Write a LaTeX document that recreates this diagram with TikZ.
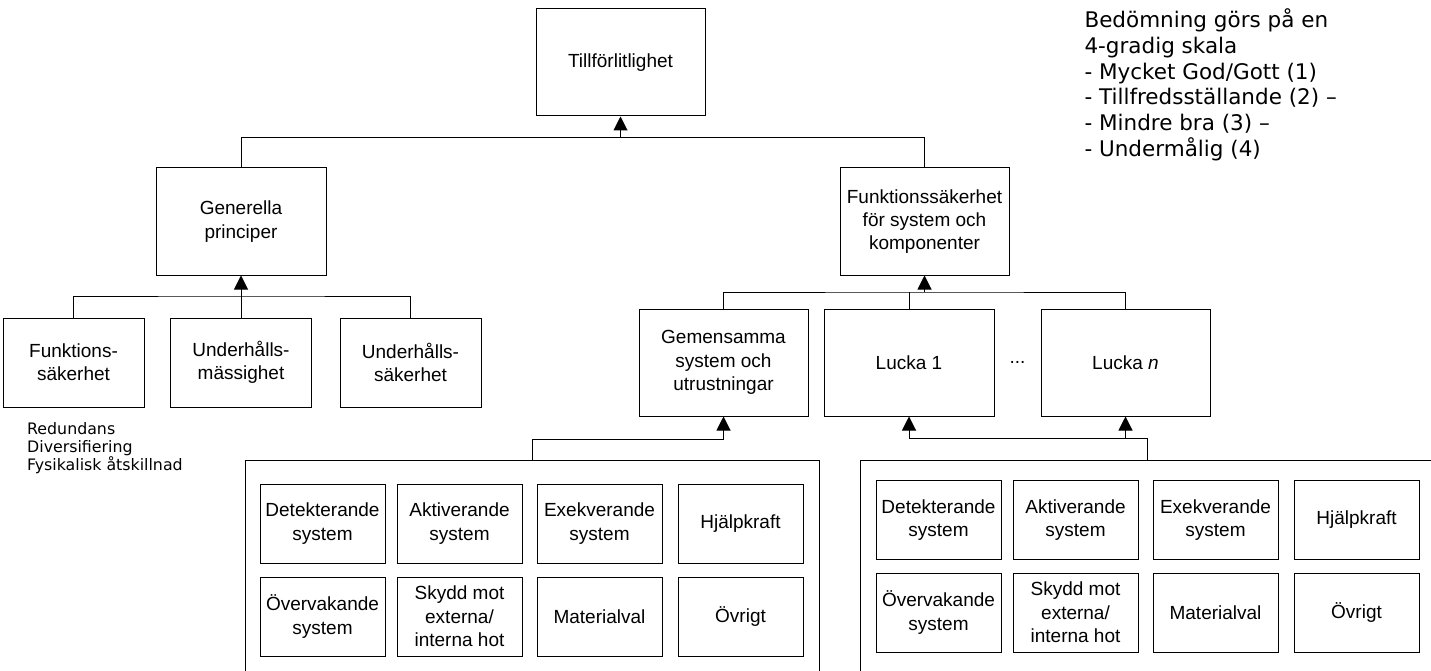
\documentclass[tikz,border=0pt]{standalone}
\usepackage{fontspec}
\setmainfont{Liberation Sans}
\newfontfamily\dejavu{DejaVu Sans}
\usetikzlibrary{arrows.meta}
\begin{document}
\begin{tikzpicture}[x=1pt,y=-1pt,
  line width=1pt,
  box/.style={draw, align=center, inner sep=0pt, font=\fontsize{19}{23.3}\selectfont},
  bigbox/.style={box, minimum width=169pt, minimum height=107pt},
  smallbox/.style={box, minimum width=141pt, minimum height=89pt},
  cell/.style={box, minimum width=125pt, minimum height=79pt},
  group/.style={draw, inner sep=0pt, minimum width=574pt, minimum height=260pt},
  arr/.style={-{Triangle[width=14pt,length=14pt]}},
  note/.style={align=left, inner sep=0pt, anchor=base west}
]
\useasboundingbox (0,0) rectangle (1431,671);
\clip (0,0) rectangle (1431,671);

% top level
\node[bigbox] (rel) at (620.5,62.5) {Tillförlitlighet};
\node[bigbox, minimum width=170pt] (gen) at (241,221.5) {Generella\\principer};
\node[bigbox] (fsk) at (924.5,221.5) {Funktionssäkerhet\\för system och\\komponenter};

% left branch
\node[smallbox] (f1) at (73.5,362.5) {Funktions-\\säkerhet};
\node[smallbox] (f2) at (241,362.5) {Underhålls-\\mässighet};
\node[smallbox] (f3) at (410.5,362.5) {Underhålls-\\säkerhet};

% right branch
\node[bigbox] (gem) at (723.5,362.5) {Gemensamma\\system och\\utrustningar};
\node[bigbox, minimum width=170pt] (l1) at (909,362.5) {Lucka 1};
\node[font=\fontsize{19}{23.3}\selectfont, inner sep=0pt] (dots) at (1017.5,362.5) {...};
\node[bigbox] (ln) at (1125.5,362.5) {Lucka \textit{n}};

% groups
\node[group] (grpL) at (532,590) {};
\node[group] (grpR) at (1147,590) {};

% cells left
\node[cell] (aL1) at (322.5,523.5) {Detekterande\\system};
\node[cell] (aL2) at (459.5,523.5) {Aktiverande\\system};
\node[cell] (aL3) at (599.5,523.5) {Exekverande\\system};
\node[cell] (aL4) at (740.5,523.5) {Hjälpkraft};
\node[cell] (bL1) at (322.5,616.5) {Övervakande\\system};
\node[cell] (bL2) at (459.5,616.5) {Skydd mot\\externa/\\interna hot};
\node[cell] (bL3) at (599.5,616.5) {Materialval};
\node[cell] (bL4) at (740.5,616.5) {Övrigt};

% cells right
\node[cell] (aR1) at (938.5,520) {Detekterande\\system};
\node[cell] (aR2) at (1075.5,520) {Aktiverande\\system};
\node[cell] (aR3) at (1215.5,520) {Exekverande\\system};
\node[cell] (aR4) at (1356.5,520) {Hjälpkraft};
\node[cell] (bR1) at (938.5,612.5) {Övervakande\\system};
\node[cell] (bR2) at (1075.5,612.5) {Skydd mot\\externa/\\interna hot};
\node[cell] (bR3) at (1215.5,612.5) {Materialval};
\node[cell] (bR4) at (1356.5,612.5) {Övrigt};

% notes (base anchor = baseline of last line)
\node[note, font=\dejavu\fontsize{21.5}{25.8}\selectfont] (scale) at (1084,156.5)
  {Bedömning görs på en\\4-gradig skala\\- Mycket God/Gott (1)\\- Tillfredsställande (2) –\\- Mindre bra (3) –\\- Undermålig (4)};
\node[note, font=\dejavu\fontsize{15.8}{18.3}\selectfont] (prin) at (26.7,470.6)
  {Redundans\\Diversifiering\\Fysikalisk åtskillnad};

% connectors
\coordinate (jT) at (620.5,137.5);
\draw (gen.north) |- (jT) -| (fsk.north);
\draw[arr] (jT) -- (rel.south);

\coordinate (jG) at (241,296);
\draw (f1.north) |- (jG) -| (f3.north);
\draw[arr] (f2.north) -- (gen.south);

\coordinate (jF) at (924.5,292);
\draw (gem.north) |- (jF) -| (ln.north);
\draw (l1.north) -- (l1.north |- jF);
\draw[arr] (jF) -- (fsk.south);

\coordinate (jL) at (723.5,439);
\draw[arr] (grpL.north) |- (jL) -- (gem.south);

\coordinate (jR) at (1125.5,438);
\draw[arr] (grpR.north) |- (jR) -- (ln.south);
\draw[arr] (jR) -| (l1.south);
\end{tikzpicture}
\end{document}
